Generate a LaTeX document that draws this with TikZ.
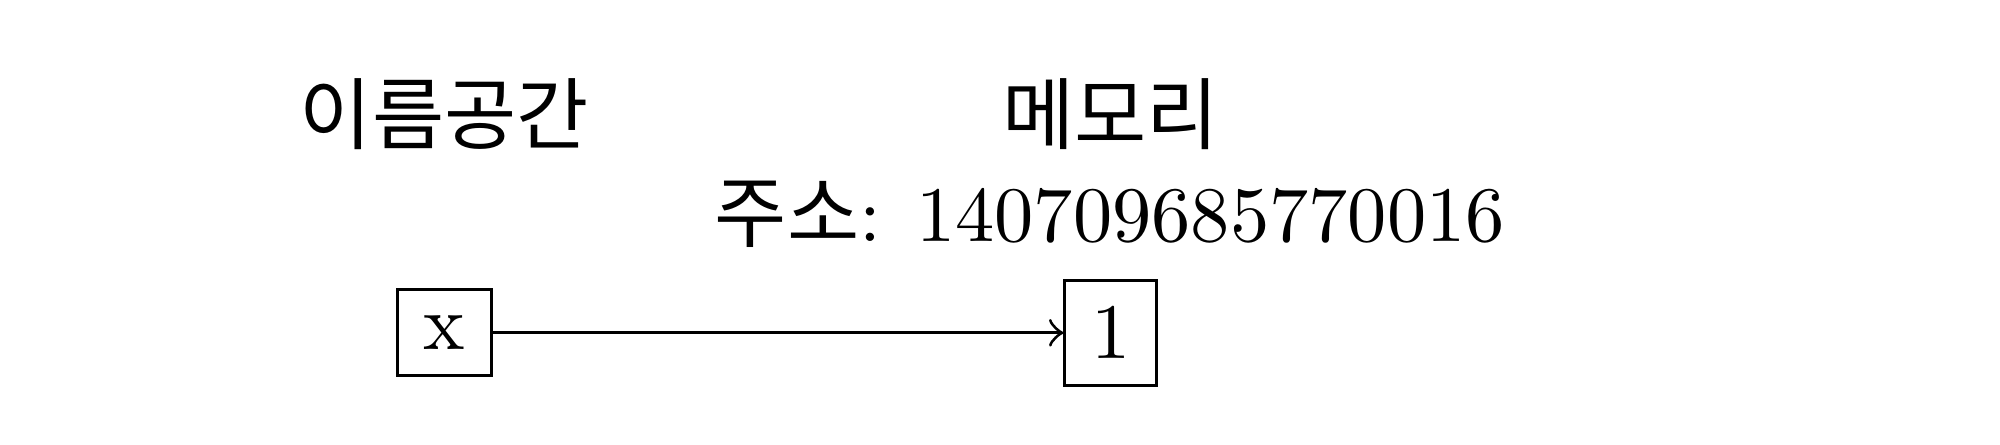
\documentclass[tikz,border=0pt]{standalone}
\usepackage{fontspec}
\newfontfamily\kr{Noto Sans CJK KR}
\usetikzlibrary{positioning}
\tikzset{
  cell/.style={draw, inner sep=3.33pt},
  lbl/.style={anchor=base, inner sep=0pt},
}
\begin{document}
\begin{tikzpicture}[x=1pt, y=1pt]
  \useasboundingbox (0,0) rectangle (254.8,-56.6);
  \def\nx{56.6} \def\mx{141.5} \def\by{-42.4}

  % name and the object it points to
  \node[cell] (name) at (\nx, \by) {x};
  \node[cell] (obj) at (\mx, \by) {1};
  \draw[->] (name.east) -- (obj.west);

  % headings
  \node[lbl] (nshead) at (\nx, -18.3) {\kr 이름공간};
  \node[lbl] (memhead) at (\mx, -18.3) {\kr 메모리};
  \node[lbl] (addr) at (141.4, -30.8) {{\kr 주소}: 140709685770016};
\end{tikzpicture}
\end{document}
